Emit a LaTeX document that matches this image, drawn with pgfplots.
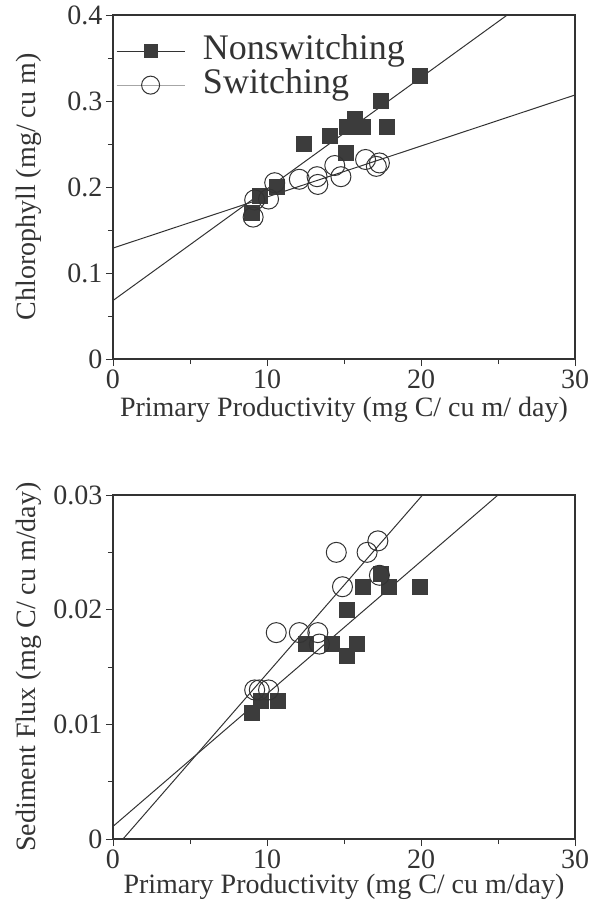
\documentclass[border=0pt]{standalone}
\usepackage{fontspec}
\setmainfont{Liberation Serif}
\usepackage{pgfplots}
\pgfplotsset{compat=1.18}
\definecolor{ink}{HTML}{333333}
\definecolor{sq}{HTML}{3C3C3C}

\pgfplotsset{
  panel/.style={
    scale only axis, width=462pt, height=344pt,
    xmin=0, xmax=30, xtick={0,10,20,30}, minor x tick num=1,
    axis line style={ink, line width=1.2pt},
    tick style={ink, line width=1pt},
    major tick length=7pt, minor tick length=5pt,
    tick align=outside,
    xtick pos=left, ytick pos=left,
    scaled y ticks=false,
    /pgf/number format/assume math mode=true,
    tick label style={font=\fontsize{28}{30}\selectfont, text=ink},
    label style={font=\fontsize{28}{32}\selectfont, text=ink},
    xlabel style={anchor=center},
    ylabel style={anchor=center, at={(axis description cs:-0.182,0.5)}},
    legend image code/.code={\draw[mark repeat=2,mark phase=2] plot coordinates {(0pt,0pt)(34pt,0pt)(68pt,0pt)};
      \path (86pt,0pt);},
  },
  nons/.style={only marks, mark=square*, mark size=7.5pt, mark options={fill=sq, draw=sq}},
  swit/.style={only marks, mark=o, mark size=10pt, mark options={draw=ink, line width=1pt}},
  fit/.style={ink, line width=1pt, no marks},
}

\begin{document}
\begin{tikzpicture}
\useasboundingbox (0,0) rectangle (602pt,-905pt);

\begin{axis}[panel, at={(113pt,-359pt)}, anchor=south west,
  ymin=0, ymax=0.4, ytick={0,0.1,0.2,0.3,0.4}, minor y tick num=1,
  xlabel={Primary Productivity (mg C/ cu m/ day)},
  ylabel={Chlorophyll (mg/ cu m)},
  xlabel style={at={(axis description cs:0.5,-0.148)}},
  legend style={draw=none, fill=none, at={(0.0,0.945)}, anchor=north west,
    font=\fontsize{36}{30}\selectfont, text=ink, row sep=0pt,
    inner xsep=3pt, inner ysep=0pt,
    nodes={inner sep=0pt, text height=25pt, text depth=9pt}},
  legend cell align=left,
]
\addlegendimage{ink, line width=0.8pt, mark=square*, mark size=6.5pt, mark options={fill=sq, draw=sq}}
\addlegendentry{Nonswitching}
\addlegendimage{gray!70, line width=0.8pt, mark=o, mark size=9pt, mark options={draw=ink, line width=1pt}}
\addlegendentry{Switching}

% regression lines
\addplot[fit, forget plot] coordinates {(0,0.068) (25.6,0.400)};
\addplot[fit, forget plot] coordinates {(0,0.129) (30,0.307)};

% nonswitching
\addplot[nons, forget plot] coordinates {
(9.0,0.170) (9.5,0.190) (10.6,0.200) (12.4,0.250) (14.1,0.260) (15.2,0.270)
(15.7,0.280) (16.2,0.270) (15.1,0.240) (17.4,0.300) (17.8,0.270) (19.9,0.330)};
% switching
\addplot[swit, forget plot] coordinates {
(9.1,0.165) (9.2,0.185) (10.1,0.186) (10.5,0.205) (12.1,0.209) (13.25,0.212)
(13.3,0.203) (14.4,0.225) (14.8,0.212) (16.4,0.232) (17.1,0.224) (17.3,0.228)};
\end{axis}

\begin{axis}[panel, at={(113pt,-839pt)}, anchor=south west,
  ymin=0, ymax=0.03, ytick={0,0.01,0.02,0.03}, yticklabels={0,0.01,0.02,0.03},
  minor y tick num=1,
  xlabel={Primary Productivity (mg C/ cu m/day)},
  ylabel={Sediment Flux (mg C/ cu m/day)},
  xlabel style={at={(axis description cs:0.5,-0.139)}},
]
\addplot[fit] coordinates {(0.65,0) (20.1,0.030)};
\addplot[fit] coordinates {(0,0.0011) (25.0,0.030)};

% nonswitching
\addplot[nons] coordinates {
(9.0,0.0110) (9.6,0.0121) (10.7,0.0121) (12.5,0.0170) (14.2,0.0170) (15.2,0.0200)
(15.2,0.0160) (15.8,0.0170) (16.2,0.0220) (17.4,0.0231) (17.9,0.0220) (19.9,0.0220)};
% switching
\addplot[swit] coordinates {
(9.2,0.0130) (9.5,0.0130) (10.1,0.0130) (10.6,0.0180) (12.1,0.0180) (13.3,0.0180)
(13.4,0.0170) (14.5,0.0250) (14.9,0.0220) (16.5,0.0250) (17.2,0.0260) (17.3,0.0230)};
\end{axis}
\end{tikzpicture}
\end{document}
